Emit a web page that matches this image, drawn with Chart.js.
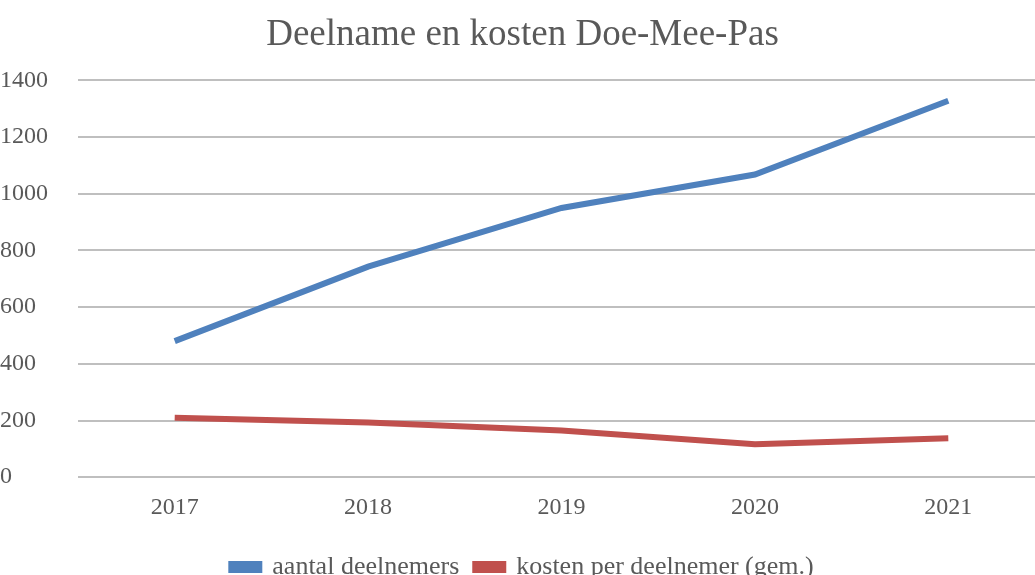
<!DOCTYPE html>
<html>
<head>
<meta charset="utf-8">
<script src="https://cdn.jsdelivr.net/npm/chart.js@4"></script>
<style>
  html, body { margin: 0; padding: 0; background: #fff; overflow: hidden; }
  #wrap { position: relative; width: 1045px; height: 590px; }
</style>
</head>
<body>
<div id="wrap"><canvas id="myChart"></canvas></div>
<script>
const years = ['2017', '2018', '2019', '2020', '2021'];
const deelnemers = [480, 743, 950, 1068, 1328];
const kosten = [210, 193, 165, 116, 137];

const textColor = '#595959';
const serif = "'Liberation Serif', 'DejaVu Serif', serif";

const datasets = [
  {
    label: 'aantal deelnemers',
    data: deelnemers,
    borderColor: '#4f81bd',
    backgroundColor: '#4f81bd',
    borderWidth: 6,
    pointRadius: 0,
    tension: 0
  },
  {
    label: 'kosten per deelnemer (gem.)',
    data: kosten,
    borderColor: '#c0504d',
    backgroundColor: '#c0504d',
    borderWidth: 6,
    pointRadius: 0,
    tension: 0
  }
];

// the original is cut off at the bottom, so the canvas is a bit bigger than the window
const myChart = new Chart(document.getElementById('myChart'), {
  type: 'line',
  data: { labels: years, datasets },
  options: {
    responsive: true,
    maintainAspectRatio: false,
    animation: false,
    layout: { padding: 0 },
    plugins: {
      title: {
        display: true,
        text: 'Deelname en kosten Doe-Mee-Pas',
        color: textColor,
        font: { family: serif, size: 37, weight: 'normal' },
        padding: { top: 13, bottom: 23 }
      },
      legend: {
        position: 'bottom',
        labels: {
          color: textColor,
          font: { family: serif, size: 26 },
          boxWidth: 28,
          boxHeight: 6,
          padding: 16
        }
      },
      tooltip: { enabled: false }
    },
    scales: {
      x: {
        offset: true,
        grid: { display: false, drawTicks: false },
        border: { display: false },
        ticks: {
          color: textColor,
          font: { family: serif, size: 24 },
          padding: 16
        }
      },
      y: {
        min: 0,
        max: 1400,
        afterFit: (scale) => { scale.width = 78; },
        grid: { color: '#bfbfbf', lineWidth: 2, drawTicks: false },
        border: { display: false },
        ticks: {
          stepSize: 200,
          color: textColor,
          font: { family: serif, size: 24 },
          crossAlign: 'far',
          padding: 0,
          callback: (value) => String(value)
        }
      }
    }
  }
});
</script>
</body>
</html>
